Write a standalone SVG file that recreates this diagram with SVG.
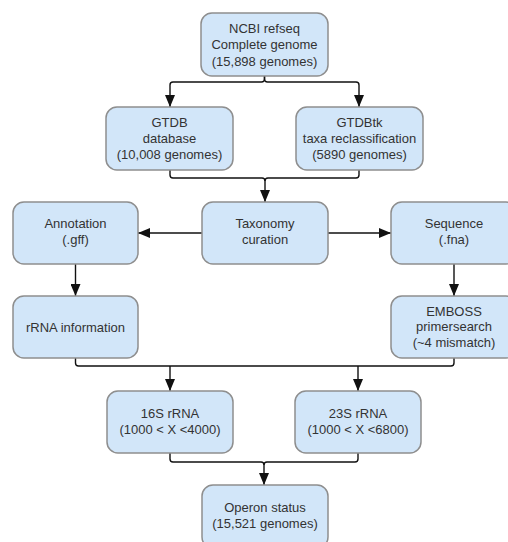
<svg xmlns="http://www.w3.org/2000/svg" width="508" height="542" viewBox="0 0 508 542">
<style>
.box{fill:#d2e6f9;stroke:#8e8e8e;stroke-width:1.5}
.t{font-family:"Liberation Sans",Arial,sans-serif;font-size:13px;fill:#333;text-anchor:middle}
.c{fill:none;stroke:#111;stroke-width:1.4}
</style>
<defs>
<marker id="ah" markerUnits="userSpaceOnUse" markerWidth="12" markerHeight="10" refX="12" refY="5" orient="auto">
<path d="M0,0 L12,5 L0,10 Z" fill="#111"/>
</marker>
</defs>
<rect width="508" height="542" fill="#fff"/>
<g id="connectors">
<path class="c" d="M264.5,76 V79 Q264.5,82 261.5,82 H173 Q170,82 170,85 V107" marker-end="url(#ah)"/>
<path class="c" d="M264.5,76 V79 Q264.5,82 267.5,82 H356 Q359,82 359,85 V107" marker-end="url(#ah)"/>
<path class="c" d="M170,170 V175 Q170,178 173,178 H262 Q265,178 265,181 V202" marker-end="url(#ah)"/>
<path class="c" d="M359,170 V175 Q359,178 356,178 H268 Q265,178 265,181"/>
<path class="c" d="M202,233 H138" marker-end="url(#ah)"/>
<path class="c" d="M328,233 H391" marker-end="url(#ah)"/>
<path class="c" d="M75.5,264 V296" marker-end="url(#ah)"/>
<path class="c" d="M454,264 V296" marker-end="url(#ah)"/>
<path class="c" d="M75.5,358 V363 Q75.5,366 78.5,366 H451 Q454,366 454,363 V358"/>
<path class="c" d="M170,366 V391" marker-end="url(#ah)"/>
<path class="c" d="M358,366 V391" marker-end="url(#ah)"/>
<path class="c" d="M170,453 V459 Q170,462 173,462 H261 Q264,462 264,465 V485" marker-end="url(#ah)"/>
<path class="c" d="M358,453 V459 Q358,462 355,462 H267 Q264,462 264,465"/>
</g>
<g id="ncbi">
<rect class="box" x="201" y="13" width="127" height="63" rx="11"/>
<text class="t" x="264.5" y="33">NCBI refseq</text>
<text class="t" x="264.5" y="49">Complete genome</text>
<text class="t" x="264.5" y="65.5">(15,898 genomes)</text>
</g>
<g id="gtdb">
<rect class="box" x="106" y="107" width="127" height="63" rx="11"/>
<text class="t" x="169.5" y="127">GTDB</text>
<text class="t" x="169.5" y="143">database</text>
<text class="t" x="169.5" y="159">(10,008 genomes)</text>
</g>
<g id="gtdbtk">
<rect class="box" x="296" y="107" width="127" height="63" rx="11"/>
<text class="t" x="359.5" y="127">GTDBtk</text>
<text class="t" x="359.5" y="143">taxa reclassification</text>
<text class="t" x="359.5" y="159">(5890 genomes)</text>
</g>
<g id="taxonomy">
<rect class="box" x="202" y="202" width="126" height="62" rx="11"/>
<text class="t" x="265" y="228">Taxonomy</text>
<text class="t" x="265" y="244">curation</text>
</g>
<g id="annotation">
<rect class="box" x="13" y="202" width="125" height="62" rx="11"/>
<text class="t" x="75.5" y="228">Annotation</text>
<text class="t" x="75.5" y="244">(.gff)</text>
</g>
<g id="sequence">
<rect class="box" x="391" y="202" width="126" height="62" rx="11"/>
<text class="t" x="454" y="228">Sequence</text>
<text class="t" x="454" y="244">(.fna)</text>
</g>
<g id="rrna-info">
<rect class="box" x="13" y="296" width="125" height="62" rx="11"/>
<text class="t" x="75.5" y="331.5">rRNA information</text>
</g>
<g id="emboss">
<rect class="box" x="391" y="296" width="126" height="62" rx="11"/>
<text class="t" x="454" y="315.5">EMBOSS</text>
<text class="t" x="454" y="331">primersearch</text>
<text class="t" x="454" y="347">(~4 mismatch)</text>
</g>
<g id="s16">
<rect class="box" x="107" y="391" width="126" height="62" rx="11"/>
<text class="t" x="170" y="417.5">16S rRNA</text>
<text class="t" x="170" y="433.5">(1000 &lt; X &lt;4000)</text>
</g>
<g id="s23">
<rect class="box" x="295" y="391" width="126" height="62" rx="11"/>
<text class="t" x="358" y="417.5">23S rRNA</text>
<text class="t" x="358" y="433.5">(1000 &lt; X &lt;6800)</text>
</g>
<g id="operon">
<rect class="box" x="202" y="485" width="126" height="63" rx="11"/>
<text class="t" x="265" y="511.5">Operon status</text>
<text class="t" x="265" y="527.5">(15,521 genomes)</text>
</g>
</svg>
